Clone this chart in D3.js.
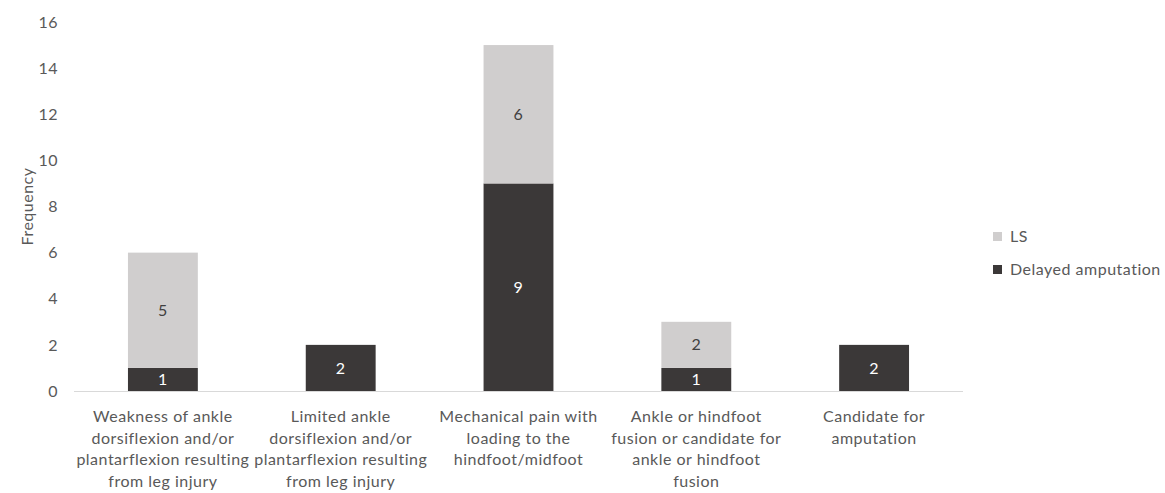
<!DOCTYPE html>
<html>
<head>
<meta charset="utf-8">
<script src="https://cdn.jsdelivr.net/npm/d3@7"></script>
<style>
  html, body { margin: 0; padding: 0; background: #fff; }
  svg { display: block; font-family: Lato, "Open Sans", sans-serif; }
  svg text { letter-spacing: 0.5px; }
</style>
</head>
<body>
<svg id="chart" width="1165" height="493"></svg>
<script>
// Category labels, pre-wrapped into lines
const categories = [
  ["Weakness of ankle", "dorsiflexion and/or", "plantarflexion resulting", "from leg injury"],
  ["Limited ankle", "dorsiflexion and/or", "plantarflexion resulting", "from leg injury"],
  ["Mechanical pain with", "loading to the", "hindfoot/midfoot"],
  ["Ankle or hindfoot", "fusion or candidate for", "ankle or hindfoot", "fusion"],
  ["Candidate for", "amputation"]
];
const delayedAmputation = [1, 2, 9, 1, 2];
const ls = [5, 0, 6, 2, 0];
const seriesNames = ["Delayed amputation", "LS"];
const yTicks = [0, 2, 4, 6, 8, 10, 12, 14, 16];

const colors = { "Delayed amputation": "#3b3838", "LS": "#d0cece" };
const labelColors = { "Delayed amputation": "#ffffff", "LS": "#404040" };
const textColor = "#595959";
const fontSize = 16;

const svg = d3.select("#chart");
const plotLeft = 74, plotRight = 963, plotTop = 22, plotBottom = 391;

const x = d3.scaleBand()
  .domain(d3.range(categories.length))
  .range([plotLeft, plotRight])
  .paddingInner(0.607)
  .paddingOuter(0.3035);

const y = d3.scaleLinear().domain([0, 16]).range([plotBottom, plotTop]);

const rows = categories.map((c, i) => ({ i, "Delayed amputation": delayedAmputation[i], "LS": ls[i] }));
const stacked = d3.stack().keys(seriesNames)(rows);

// Stacked bars
const layers = svg.append("g").selectAll("g")
  .data(stacked).join("g")
  .attr("fill", d => colors[d.key]);

layers.selectAll("rect")
  .data(d => d.map(p => ({ p, key: d.key })).filter(d => d.p[1] - d.p[0] > 0))
  .join("rect")
  .attr("x", d => x(d.p.data.i))
  .attr("width", x.bandwidth())
  .attr("y", d => y(d.p[1]))
  .attr("height", d => y(d.p[0]) - y(d.p[1]));

// Value labels centred in each segment
layers.selectAll("text")
  .data(d => d.map(p => ({ p, key: d.key })).filter(d => d.p[1] - d.p[0] > 0))
  .join("text")
  .attr("x", d => x(d.p.data.i) + x.bandwidth() / 2)
  .attr("y", d => (y(d.p[0]) + y(d.p[1])) / 2)
  .attr("dy", "0.35em")
  .attr("text-anchor", "middle")
  .attr("font-size", fontSize)
  .attr("fill", d => labelColors[d.key])
  .text(d => d.p[1] - d.p[0]);

// Baseline
svg.append("line")
  .attr("x1", plotLeft).attr("x2", plotRight)
  .attr("y1", y(0) + 0.5).attr("y2", y(0) + 0.5)
  .attr("stroke", "#d9d9d9").attr("stroke-width", 1);

// Y axis tick labels
const yAxis = d3.axisLeft(y).tickValues(yTicks).tickSize(0).tickPadding(0);
const yg = svg.append("g").attr("transform", `translate(58,0)`).call(yAxis);
yg.select(".domain").remove();
yg.selectAll("text").attr("font-size", fontSize).attr("fill", textColor)
  .attr("font-family", "Lato, 'Open Sans', sans-serif");

// Category labels
const xg = svg.append("g");
categories.forEach((lines, i) => {
  const t = xg.append("text")
    .attr("text-anchor", "middle")
    .attr("font-size", fontSize)
    .attr("fill", textColor);
  lines.forEach((ln, k) => {
    t.append("tspan")
      .attr("x", x(i) + x.bandwidth() / 2)
      .attr("y", 422 + k * 21.5)
      .text(ln);
  });
});

// Y axis title
svg.append("text")
  .attr("transform", `translate(33,${(plotTop + plotBottom) / 2}) rotate(-90)`)
  .attr("text-anchor", "middle")
  .attr("font-size", fontSize)
  .attr("fill", textColor)
  .text("Frequency");

// Legend
const legendItems = ["LS", "Delayed amputation"];
const lg = svg.append("g");
legendItems.forEach((name, k) => {
  const cy = 236.5 + k * 33;
  lg.append("rect")
    .attr("x", 993).attr("y", cy - 4.5)
    .attr("width", 9).attr("height", 9)
    .attr("fill", colors[name]);
  lg.append("text")
    .attr("x", 1010).attr("y", cy)
    .attr("dy", "0.35em")
    .attr("font-size", fontSize)
    .attr("fill", textColor)
    .text(name);
});
</script>
</body>
</html>
